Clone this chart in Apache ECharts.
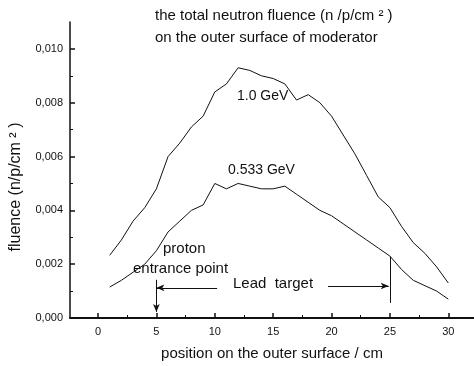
<!DOCTYPE html>
<html>
<head>
<meta charset="utf-8">
<script src="https://cdn.jsdelivr.net/npm/echarts@6/dist/echarts.min.js"></script>
<style>html,body{margin:0;padding:0;background:#fff}#c{width:474px;height:366px}</style>
</head>
<body>
<div id="c"></div>
<script>
var positions = [1,2,3,4,5,6,7,8,9,10,11,12,13,14,15,16,17,18,19,20,21,22,23,24,25,26,27,28,29,30];
var fluence1GeV = [0.00233,0.0029,0.0036,0.0041,0.0048,0.0060,0.0065,0.0071,0.0075,0.0084,0.0087,0.0093,0.0092,0.0090,0.0089,0.0087,0.0081,0.0083,0.0080,0.0075,0.0068,0.0061,0.0053,0.0045,0.0041,0.0034,0.0028,0.0024,0.0019,0.0013];
var fluence0533GeV = [0.00115,0.0014,0.0017,0.0020,0.0025,0.0032,0.0036,0.0040,0.0042,0.0050,0.0048,0.0050,0.0049,0.0048,0.0048,0.0049,0.0046,0.0043,0.0040,0.0038,0.0035,0.0032,0.0029,0.0026,0.0023,0.0018,0.0014,0.0012,0.0010,0.0007];
var xTickLabels = [0,5,10,15,20,25,30];
var xMinorTicks = [-2.5,2.5,7.5,12.5,17.5,22.5,27.5];
var yTickValues = [0,0.002,0.004,0.006,0.008,0.010];
var yMinorTicks = [0.001,0.003,0.005,0.007,0.009];
var entranceX = 5, targetEndX = 25;

function zip(xs, ys){ return xs.map(function(x,i){ return [x, ys[i]]; }); }
var font = 'Liberation Sans, Arial, sans-serif';
function label(txt, x, y, size){
  return { type: 'text', x: x, y: y, style: { text: txt, font: size + 'px ' + font, fill: '#111', verticalAlign: 'middle', align: 'left' } };
}
var chart = echarts.init(document.getElementById('c'));
var axisCommon = { min: -2.4, max: 32.2, type: 'value' };
chart.setOption({
  animation: false,
  backgroundColor: '#fff',
  grid: { left: 70, right: 0, top: 22, bottom: 48 },
  xAxis: [
    Object.assign({}, axisCommon, {
      name: 'position on the outer surface / cm', nameLocation: 'middle', nameGap: 28,
      nameTextStyle: { fontFamily: font, fontSize: 15, color: '#111' },
      axisLine: { onZero: false, lineStyle: { color: '#111', width: 2 } },
      axisTick: { inside: true, length: 5, customValues: xTickLabels, lineStyle: { color: '#111', width: 1.5 } },
      axisLabel: { customValues: xTickLabels, fontFamily: font, fontSize: 11, color: '#111', margin: 8 },
      splitLine: { show: false }
    }),
    Object.assign({}, axisCommon, {
      position: 'bottom',
      axisLine: { show: false, onZero: false },
      axisTick: { inside: true, length: 3, customValues: xMinorTicks, lineStyle: { color: '#111', width: 1 } },
      axisLabel: { show: false },
      splitLine: { show: false }
    })
  ],
  yAxis: [
    {
      type: 'value', min: 0, max: 0.011,
      axisLine: { show: true, onZero: false, lineStyle: { color: '#111', width: 1.5 } },
      axisTick: { show: true, inside: true, length: 5, customValues: yTickValues, lineStyle: { color: '#111', width: 1.5 } },
      axisLabel: { customValues: yTickValues, fontFamily: font, fontSize: 11, color: '#111', margin: 7,
        formatter: function(v){ return v.toFixed(3).replace('.', ','); } },
      splitLine: { show: false }
    },
    {
      type: 'value', min: 0, max: 0.011, position: 'left',
      axisLine: { show: false, onZero: false },
      axisTick: { show: true, inside: true, length: 3, customValues: yMinorTicks, lineStyle: { color: '#111', width: 1 } },
      axisLabel: { show: false },
      splitLine: { show: false }
    }
  ],
  graphic: [
    label('the total neutron fluence (n /p/cm ² )', 155, 16, 15),
    label('on the outer surface of moderator', 155, 38, 15),
    label('1.0 GeV', 237, 96, 14),
    label('0.533 GeV', 228, 170, 14),
    label('proton', 163, 249, 15),
    label('entrance point', 133, 269, 15),
    label('Lead  target', 233, 284, 15),
    { type: 'text', x: 16, y: 187, rotation: Math.PI / 2,
      style: { text: 'fluence (n/p/cm ² )', font: '16px ' + font, fill: '#111', align: 'center', verticalAlign: 'middle' } }
  ],
  series: [
    {
      type: 'line', data: zip(positions, fluence1GeV), showSymbol: false, symbol: 'none',
      lineStyle: { color: '#111', width: 1 }, silent: true
    },
    {
      type: 'line', data: zip(positions, fluence0533GeV), showSymbol: false, symbol: 'none',
      lineStyle: { color: '#111', width: 1 }, silent: true,
      markLine: {
        silent: true, symbolSize: [5, 8], label: { show: false },
        lineStyle: { color: '#111', width: 1, type: 'solid' },
        data: [
          [ { coord: [entranceX, 0.00142], symbol: 'none' }, { coord: [entranceX, 0.00022], symbol: 'arrow' } ],
          [ { coord: [10.2, 0.00112], symbol: 'none' }, { coord: [entranceX, 0.00112], symbol: 'arrow' } ],
          [ { coord: [19.7, 0.00119], symbol: 'none' }, { coord: [targetEndX - 0.1, 0.00119], symbol: 'arrow' } ],
          [ { coord: [targetEndX, 0.00228], symbol: 'none' }, { coord: [targetEndX, 0.00056], symbol: 'none' } ]
        ]
      }
    }
  ]
});
</script>
</body>
</html>
